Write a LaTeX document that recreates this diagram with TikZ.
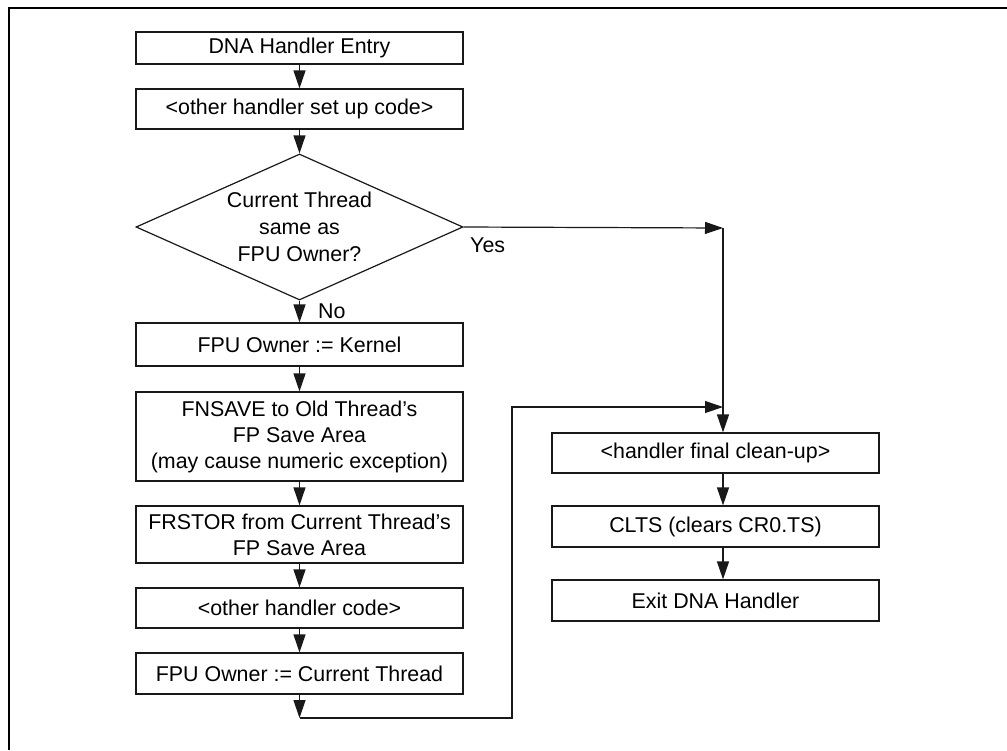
\documentclass[tikz,border=0pt]{standalone}
\usepackage{fontspec}
\setmainfont{Liberation Sans}
\usetikzlibrary{shapes.geometric,arrows.meta,calc}
\begin{document}
\begin{tikzpicture}[x=1pt,y=-1pt,
  box/.style={draw=black!90, line width=1.2pt, minimum width=327pt, inner sep=0pt, align=center,
    font=\fontsize{21.4}{26}\selectfont},
  lbl/.style={inner sep=0pt, font=\fontsize{21.4}{27}\selectfont},
  conn/.style={line width=1.2pt, draw=black!90},
  arr/.style={conn, -{Triangle[length=18pt,width=12pt]}}]
\useasboundingbox (0,0) rectangle (1007,750);
\fill[white] (0,0) rectangle (1007,750);
% frame
\draw[line width=2.4pt] (9,750) -- (9,8) -- (1007,8);
% left column
\node[box, minimum height=32pt] (b1) at (299.5,48) {DNA Handler Entry};
\node[box, minimum height=40pt] (b2) at (299.5,109) {<other handler set up code>};
\node[diamond, draw=black!90, line width=1.2pt, minimum width=327pt, minimum height=146pt, inner sep=0pt] (dia) at (299.5,227) {};
\node[lbl, align=center] (diat) at (299.5,227) {Current Thread\\same as\\FPU Owner?};
\node[box, minimum height=43pt] (b3) at (299.5,344.5) {FPU Owner := Kernel};
\node[box, minimum height=89pt] (b4) at (299.5,436.5) {FNSAVE to Old Thread’s\\FP Save Area\\(may cause numeric exception)};
\node[box, minimum height=57pt] (b5) at (299.5,534.5) {FRSTOR from Current Thread’s\\FP Save Area};
\node[box, minimum height=40pt] (b6) at (299.5,608) {<other handler code>};
\node[box, minimum height=41pt] (b7) at (299.5,673.5) {FPU Owner := Current Thread};
% right column
\node[box, minimum height=40pt] (r1) at (715.5,453) {<handler final clean-up>};
\node[box, minimum height=41pt] (r2) at (715.5,526.5) {CLTS (clears CR0.TS)};
\node[box, minimum height=41pt] (r3) at (715.5,600.5) {Exit DNA Handler};
% labels
\node[lbl, anchor=west] (yes) at (470,245) {Yes};
\node[lbl, anchor=west] (no) at (318,311) {No};
% coordinates
\coordinate (ye) at (723,228);
\coordinate (c1) at (299.5,718);
\coordinate (c2) at (512,718);
\coordinate (c3) at (512,407);
\coordinate (c4) at (723,407);
% connectors
\draw[arr] (b1.south) -- (b2.north);
\draw[arr] (b2.south) -- (dia.north);
\draw[arr] (dia.south) -- (b3.north);
\draw[arr] (b3.south) -- (b4.north);
\draw[arr] (b4.south) -- (b5.north);
\draw[arr] (b5.south) -- (b6.north);
\draw[arr] (b6.south) -- (b7.north);
\draw[arr] (b7.south) -- (c1);
\draw[arr] (c1) -- (c2) -- (c3) -- (c4);
\draw[arr] (dia.east) -- (ye);
\draw[arr] (ye) -- (r1.north -| ye);
\draw[arr] (r1.south -| ye) -- (r2.north -| ye);
\draw[arr] (r2.south -| ye) -- (r3.north -| ye);
\end{tikzpicture}
\end{document}
